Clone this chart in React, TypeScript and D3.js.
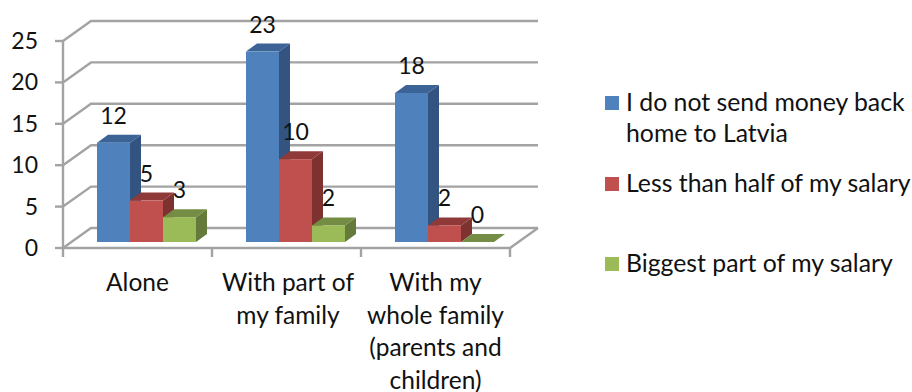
import React from "react";
import * as d3 from "d3";

const categories = ["Alone", "With part of my family", "With my whole family (parents and children)"];
const categoryLines = [["Alone"], ["With part of", "my family"], ["With my", "whole family", "(parents and", "children)"]];
const seriesNames = ["I do not send money back home to Latvia", "Less than half of my salary", "Biggest part of my salary"];
const legendLines = [["I do not send money back", "home to Latvia"], ["Less than half of my salary"], ["Biggest part of my salary"]];
const notSending = [12, 23, 18];
const lessThanHalf = [5, 10, 2];
const biggestPart = [3, 2, 0];
const seriesValues = [notSending, lessThanHalf, biggestPart];
const yTicks = [0, 5, 10, 15, 20, 25];
const palette = [
  { front: "#4f81bd", side: "#335480", top: "#3b6396" },
  { front: "#c0504d", side: "#7d3230", top: "#8f3a38" },
  { front: "#9bbb59", side: "#64793a", top: "#748c43" },
];

const FONT = "Lato, Carlito, sans-serif";
const GRID = "#a3a3a3";
const TEXT = "#111";

const wallDx = 28;
const wallDy = -20;
const barDx = 11;
const barDy = -8;
const baseLift = 6;
const groupShift = 9;

const y = d3.scaleLinear().domain([0, 25]).range([248, 41]);
const x = d3.scaleBand<string>().domain(categories).range([63, 510]);
const barWidth = 33;
const inner = d3.scaleBand<number>().domain([0, 1, 2]).range([-1.5 * barWidth, 1.5 * barWidth]);

const poly = (pts: [number, number][]) => "M" + pts.map((p) => p.join(",")).join("L") + "Z";

export default function App() {
  const y0 = y(0);
  const tickXs = [...categories.map((c) => x(c) as number), 510];
  return (
    <svg
      width={912}
      height={392}
      style={{ position: "absolute", left: 0, top: 0, background: "#fff" }}
      fontFamily={FONT}
    >
      {/* Back wall gridlines with their diagonal run along the side wall */}
      {yTicks.map((t) => (
        <g key={t} fill="none" stroke={GRID} strokeWidth={2.4}>
          <line x1={55} x2={63} y1={y(t)} y2={y(t)} />
          <path d={`M63,${y(t)}L${63 + wallDx},${y(t) + wallDy}L${510 + wallDx},${y(t) + wallDy}`} />
        </g>
      ))}
      {/* Axis lines, floor and category tick marks */}
      <g fill="none" stroke={GRID} strokeWidth={2.4}>
        <line x1={63} x2={63} y1={y(25)} y2={y0} />
        <path d={`M63,${y0}L510,${y0}L${510 + wallDx},${y0 + wallDy}`} />
        {tickXs.map((tx) => (
          <line key={tx} x1={tx} x2={tx} y1={y0} y2={y0 + 9} />
        ))}
      </g>
      {yTicks.map((t) => (
        <text key={t} x={38} y={y(t) + 8} textAnchor="end" fontSize={23} fill={TEXT}>
          {t}
        </text>
      ))}

      {/* Extruded columns, one series at a time within each category */}
      {categories.map((c, ci) => {
        const cx = (x(c) as number) + (x.bandwidth() / 2) + groupShift;
        return (
          <g key={c}>
            {seriesValues.map((vals, si) => {
              const v = vals[ci];
              const left = cx + (inner(si) as number);
              const right = left + inner.bandwidth();
              const base = y0 - baseLift;
              const top = y(v) - baseLift;
              const col = palette[si];
              return (
                <g key={seriesNames[si]}>
                  <path
                    d={poly([[right, top], [right + barDx, top + barDy], [right + barDx, base + barDy], [right, base]])}
                    fill={col.side}
                  />
                  <path
                    d={poly([[left, top], [left + barDx, top + barDy], [right + barDx, top + barDy], [right, top]])}
                    fill={col.top}
                  />
                  <rect x={left} y={top} width={right - left} height={base - top} fill={col.front} />
                </g>
              );
            })}
            {seriesValues.map((vals, si) => (
              <text
                key={si}
                x={cx + (inner(si) as number) + inner.bandwidth() / 2}
                y={y(vals[ci]) - baseLift - 19}
                textAnchor="middle"
                fontSize={23}
                fill={TEXT}
              >
                {vals[ci]}
              </text>
            ))}
          </g>
        );
      })}

      {/* Category labels */}
      {categories.map((c, ci) =>
        categoryLines[ci].map((line, li) => (
          <text
            key={line}
            x={(x(c) as number) + x.bandwidth() / 2 + (ci === 1 ? 1.5 : 0)}
            y={291 + li * 32.5}
            textAnchor="middle"
            fontSize={24.5}
            fill={TEXT}
          >
            {line}
          </text>
        ))
      )}

      {/* Legend */}
      {seriesNames.map((name, si) => {
        const baseline = [111, 192, 272][si];
        return (
          <g key={name}>
            <rect x={605} y={baseline - 15} width={14} height={14} fill={palette[si].front} />
            {legendLines[si].map((line, li) => (
              <text key={line} x={626} y={baseline + li * 31} fontSize={24.8} fill={TEXT}>
                {line}
              </text>
            ))}
          </g>
        );
      })}
    </svg>
  );
}
